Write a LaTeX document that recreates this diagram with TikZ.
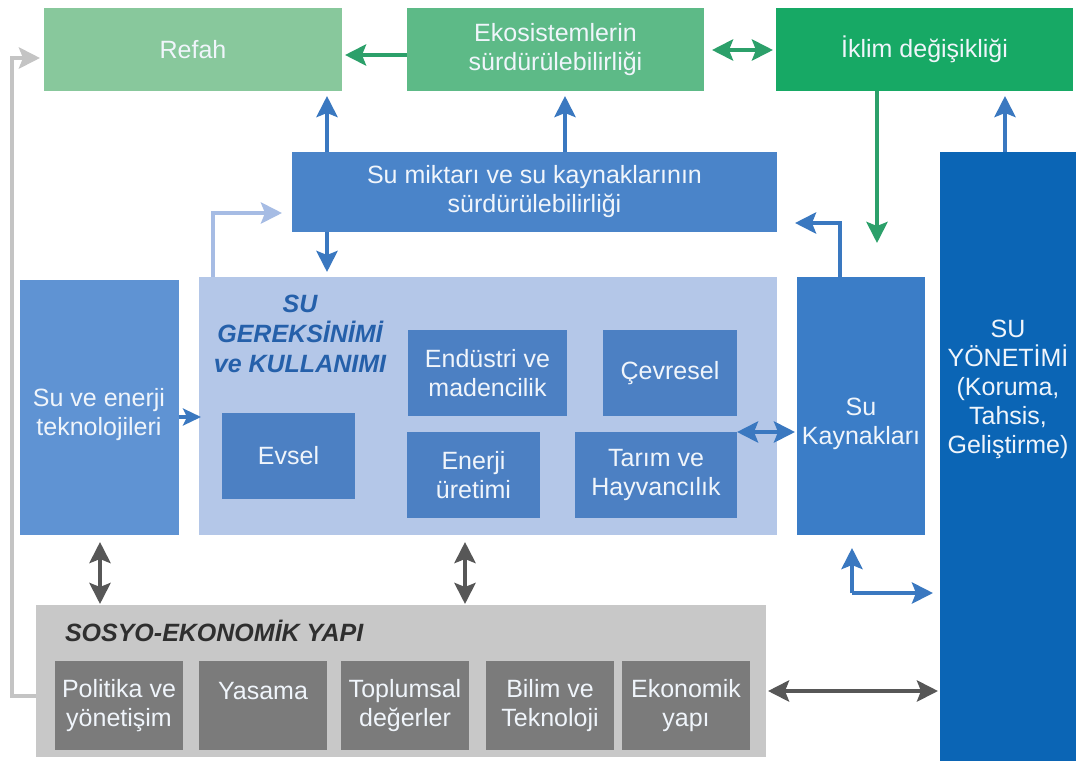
\documentclass[tikz,border=0pt]{standalone}
\usepackage{fontspec}
\setmainfont{Liberation Sans}
\usetikzlibrary{arrows.meta}
\definecolor{refahC}{HTML}{88C89C}
\definecolor{ekoC}{HTML}{5DBA87}
\definecolor{iklimC}{HTML}{17A965}
\definecolor{garrowC}{HTML}{2CA06A}
\definecolor{sumikC}{HTML}{4A84C9}
\definecolor{suveC}{HTML}{5F93D3}
\definecolor{gerekC}{HTML}{B4C7E8}
\definecolor{innerC}{HTML}{4C80C3}
\definecolor{sukayC}{HTML}{3B7DC7}
\definecolor{yonetimC}{HTML}{0B65B5}
\definecolor{barrowC}{HTML}{3A78C0}
\definecolor{lbarrowC}{HTML}{A6BCE4}
\definecolor{sosyoC}{HTML}{C8C8C8}
\definecolor{grayinC}{HTML}{7B7B7B}
\definecolor{darrowC}{HTML}{575757}
\definecolor{loopC}{HTML}{C4C4C4}
\definecolor{titleC}{HTML}{2560AA}
\definecolor{boxtextC}{HTML}{F0F5FB}
\definecolor{sosyotitleC}{HTML}{2F2F2F}
\begin{document}
\begin{tikzpicture}[x=1pt,y=-1pt,
  every node/.style={inner sep=0pt,outer sep=0pt},
  txt/.style={font=\fontsize{25}{29}\selectfont,align=center,text=boxtextC},
  box/.style={txt,anchor=north west,draw=none},
  ttl/.style={font=\fontsize{25}{30}\selectfont\bfseries\itshape,align=center},
  arr/.style={line width=4.5pt,-{Stealth[length=21pt,width=21pt,inset=4pt]},shorten >=5pt},
  darr/.style={line width=4.5pt,{Stealth[length=21pt,width=21pt,inset=4pt]}-{Stealth[length=21pt,width=21pt,inset=4pt]},shorten >=5pt,shorten <=5pt},
]
\path[use as bounding box,fill=white] (0,0) rectangle (1076,761);

% top row
\node[box,fill=refahC,minimum width=298pt,minimum height=83pt] (refah) at (44,8) {Refah};
\node[box,fill=ekoC,minimum width=297pt,minimum height=83pt] (eko) at (407,8) {Ekosistemlerin\\sürdürülebilirliği};
\node[box,fill=iklimC,minimum width=297pt,minimum height=83pt] (iklim) at (776,8) {İklim değişikliği};

% middle
\node[box,fill=sumikC,minimum width=485pt,minimum height=80pt] (sumik) at (292,152) {Su miktarı ve su kaynaklarının\\sürdürülebilirliği};
\node[box,fill=suveC,minimum width=159pt,minimum height=255pt] (suve) at (20,280) {};
\node[txt] (suvet) at (99,415) {Su ve enerji\\teknolojileri};
\node[box,fill=gerekC,minimum width=578pt,minimum height=258pt] (gerek) at (199,277) {};
\node[ttl,text=titleC] (gerekt) at (300,334) {SU\\GEREKSİNİMİ\\ve KULLANIMI};
\node[box,fill=innerC,minimum width=133pt,minimum height=86pt] (evsel) at (222,413) {Evsel};
\node[box,fill=innerC,minimum width=159pt,minimum height=86pt] (endus) at (408,330) {Endüstri ve\\madencilik};
\node[box,fill=innerC,minimum width=134pt,minimum height=86pt] (cevre) at (603,330) {Çevresel};
\node[box,fill=innerC,minimum width=133pt,minimum height=86pt] (enerji) at (407,432) {Enerji\\üretimi};
\node[box,fill=innerC,minimum width=162pt,minimum height=86pt] (tarim) at (575,432) {Tarım ve\\Hayvancılık};
\node[box,fill=sukayC,minimum width=128pt,minimum height=258pt] (sukay) at (797,277) {};
\node[txt] (sukayt) at (861,424) {Su\\Kaynakları};
\node[box,fill=yonetimC,minimum width=136pt,minimum height=609pt] (yonetim) at (940,152) {};
\node[txt] (yonetimt) at (1008,389) {SU\\YÖNETİMİ\\(Koruma,\\Tahsis,\\Geliştirme)};

% bottom
\node[box,fill=sosyoC,minimum width=730pt,minimum height=152pt] (sosyo) at (36,605) {};
\node[ttl,text=sosyotitleC,anchor=west] (sosyot) at (65,631) {SOSYO-EKONOMİK YAPI};
\node[box,fill=grayinC,minimum width=128pt,minimum height=89pt] (politika) at (55,661) {Politika ve\\yönetişim};
\node[box,fill=grayinC,minimum width=128pt,minimum height=89pt] (yasama) at (199,661) {Yasama\\\mbox{}};
\node[box,fill=grayinC,minimum width=128pt,minimum height=89pt] (toplum) at (341,661) {Toplumsal\\değerler};
\node[box,fill=grayinC,minimum width=128pt,minimum height=89pt] (bilim) at (486,661) {Bilim ve\\Teknoloji};
\node[box,fill=grayinC,minimum width=128pt,minimum height=89pt] (ekonomik) at (622,661) {Ekonomik\\yapı};

\coordinate (gdown) at (877,243);
\coordinate (corner) at (852,593);

% green connectors
\draw[arr,garrowC,shorten >=3pt] (eko.west |- 0,55) -- (refah.east |- 0,55);
\draw[darr,garrowC,shorten >=3pt,shorten <=8pt] (eko.east |- 0,50) -- (iklim.west |- 0,50);
\draw[arr,garrowC,shorten >=0pt] (877,0 |- iklim.south) -- (gdown);

% blue connectors
\draw[arr,barrowC] (327,0 |- sumik.north) -- (327,0 |- refah.south);
\draw[arr,barrowC] (565,0 |- sumik.north) -- (565,0 |- eko.south);
\draw[arr,barrowC] (327,0 |- sumik.south) -- (327,0 |- gerek.north);
\draw[arr,lbarrowC,shorten >=10pt] (213,0 |- gerek.north) -- (213,213) -- (sumik.west |- 0,213);
\draw[arr,barrowC,shorten >=18pt] (840,0 |- sukay.north) -- (840,223) -- (sumik.east |- 0,223);
\draw[arr,barrowC] (1005,0 |- yonetim.north) -- (1005,0 |- iklim.south);
\draw[arr,barrowC,line width=4pt,-{Stealth[length=18pt,width=17pt,inset=4pt]},shorten >=-2pt] (suve.east |- 0,417) -- (gerek.west |- 0,417);
\draw[darr,barrowC,shorten <=0pt,shorten >=2pt] (tarim.east |- 0,432) -- (sukay.west |- 0,432);
\draw[arr,barrowC,shorten >=13pt] (corner) -- (corner |- sukay.south);
\draw[arr,barrowC,shorten >=7pt] (corner) -- (corner -| yonetim.west);

% gray connectors
\draw[darr,darrowC,shorten >=1pt,shorten <=7pt] (100,0 |- suve.south) -- (100,0 |- sosyo.north);
\draw[darr,darrowC,shorten >=1pt,shorten <=7pt] (465,0 |- gerek.south) -- (465,0 |- sosyo.north);
\draw[darr,darrowC,shorten >=2pt,shorten <=2pt] (sosyo.east |- 0,691) -- (yonetim.west |- 0,691);
\draw[arr,loopC,shorten >=4pt] (sosyo.west |- 0,696) -- (12,696) -- (12,58) -- (refah.west |- 0,58);
\end{tikzpicture}
\end{document}
